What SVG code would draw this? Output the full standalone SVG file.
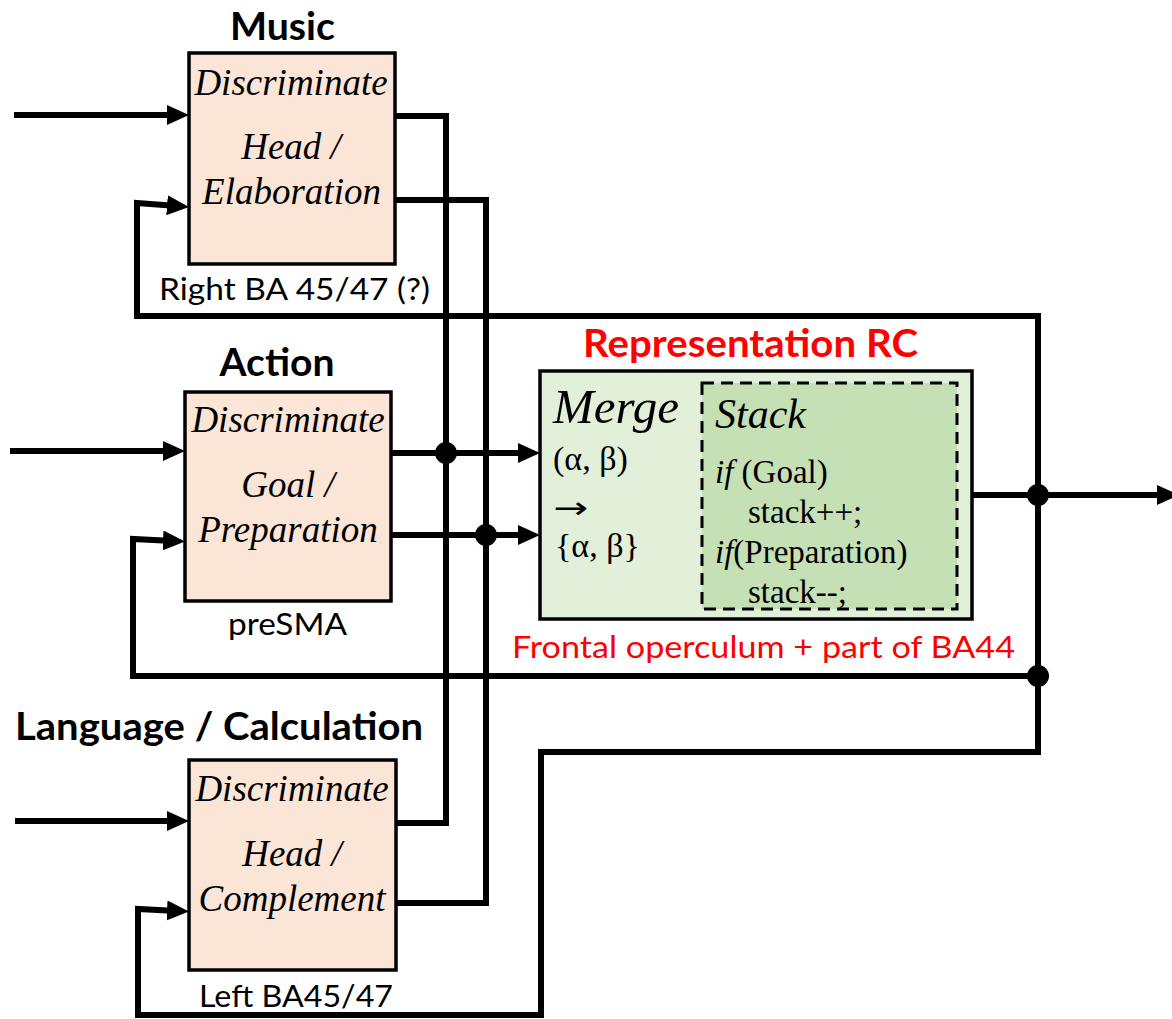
<svg xmlns="http://www.w3.org/2000/svg" width="1172" height="1019" viewBox="0 0 1172 1019">
  <defs>
    <marker id="arr" markerUnits="userSpaceOnUse" markerWidth="22" markerHeight="20" viewBox="0 0 22 20" refX="10" refY="10" orient="auto-start-reverse">
      <path d="M0,0 L22,10 L0,20 z" fill="#000"/>
    </marker>
    <style>
      .wire { fill: none; stroke: #000; stroke-width: 6; stroke-linejoin: miter; }
      .dot { fill: #000; }
      .box { fill: #fbe5d6; stroke: #000; stroke-width: 3.5; }
      .rc { fill: #e2f0d9; stroke: #000; stroke-width: 3.5; }
      .stack { fill: #c5e0b4; stroke: #000; stroke-width: 3; stroke-dasharray: 12 7; }
      .title { font-family: Lato, "Liberation Sans", sans-serif; font-weight: bold; font-size: 39px; fill: #000; }
      .area { font-family: Lato, "Liberation Sans", sans-serif; font-size: 30px; fill: #000; }
      .fn { font-family: "Liberation Serif", "Times New Roman", serif; font-style: italic; font-size: 37px; fill: #000; text-anchor: middle; }
      .code { font-family: "Liberation Serif", "Times New Roman", serif; font-size: 33px; fill: #000; }
      .merge { font-size: 49px; font-style: italic; }
      .pair { font-size: 34px; }
      .maps { font-family: "Noto Sans", "DejaVu Sans", sans-serif; font-size: 30px; }
      .head { font-size: 42px; font-style: italic; }
      .red { fill: #ff0000; }
    </style>
  </defs>

  <!-- wiring between the modules -->
  <g id="connectors">
    <!-- input arrows -->
    <path class="wire" d="M14,115 H177" marker-end="url(#arr)"/>
    <path class="wire" d="M10,451 H173" marker-end="url(#arr)"/>
    <path class="wire" d="M15,821 H177" marker-end="url(#arr)"/>
    <!-- feedback loop to Music and Language/Calculation -->
    <path class="wire" d="M177,206 L137,203 V316 H1038 V752 H541 V1015 H138 V909 L177,911" marker-start="url(#arr)" marker-end="url(#arr)"/>
    <!-- feedback loop to Action -->
    <path class="wire" d="M173,541 L133,539 V676 H1038" marker-start="url(#arr)"/>
    <!-- outputs of Music / Language boxes -->
    <path class="wire" d="M395,116 H446 V823 H396"/>
    <path class="wire" d="M395,200 H486 V903 H396"/>
    <!-- outputs of Action box into RC -->
    <path class="wire" d="M391,453 H528" marker-end="url(#arr)"/>
    <path class="wire" d="M391,535 H528" marker-end="url(#arr)"/>
    <!-- RC output -->
    <path class="wire" d="M972,495 H1167" marker-end="url(#arr)"/>
    <!-- junctions -->
    <circle class="dot" cx="446" cy="453" r="11"/>
    <circle class="dot" cx="486" cy="535" r="11"/>
    <circle class="dot" cx="1038" cy="495" r="11"/>
    <circle class="dot" cx="1038" cy="676" r="11"/>
  </g>

  <g id="music">
    <text class="title" x="282.5" y="40" text-anchor="middle" textLength="105" lengthAdjust="spacingAndGlyphs">Music</text>
    <rect class="box" x="189" y="53" width="206" height="211"/>
    <text class="fn" x="291" y="95">Discriminate</text>
    <text class="fn" x="291" y="159">Head /</text>
    <text class="fn" x="291.5" y="204">Elaboration</text>
    <text class="area" x="294.5" y="300" text-anchor="middle" textLength="271" lengthAdjust="spacingAndGlyphs">Right BA 45/47 (?)</text>
  </g>

  <g id="action">
    <text class="title" x="277" y="376" text-anchor="middle" textLength="115" lengthAdjust="spacingAndGlyphs">Action</text>
    <rect class="box" x="185" y="392" width="206" height="209"/>
    <text class="fn" x="288" y="432">Discriminate</text>
    <text class="fn" x="288" y="497">Goal /</text>
    <text class="fn" x="288" y="542">Preparation</text>
    <text class="area" x="287.5" y="635" text-anchor="middle" textLength="119" lengthAdjust="spacingAndGlyphs">preSMA</text>
  </g>

  <g id="language">
    <text class="title" x="15" y="740" textLength="408" lengthAdjust="spacingAndGlyphs">Language / Calculation</text>
    <rect class="box" x="189" y="760" width="207" height="210"/>
    <text class="fn" x="292" y="801">Discriminate</text>
    <text class="fn" x="292" y="866">Head /</text>
    <text class="fn" x="292" y="911">Complement</text>
    <text class="area" x="296" y="1007" text-anchor="middle" textLength="194" lengthAdjust="spacingAndGlyphs">Left BA45/47</text>
  </g>

  <g id="representation-rc">
    <text class="title red" x="750.5" y="357" text-anchor="middle" textLength="335" lengthAdjust="spacingAndGlyphs">Representation RC</text>
    <rect class="rc" x="540" y="371" width="432" height="248"/>
    <rect class="stack" x="702" y="383" width="255" height="226"/>
    <text class="code merge" x="553" y="423">Merge</text>
    <text class="code pair" x="553" y="470">(α, β)</text>
    <text class="code maps" x="553" y="518" textLength="35" lengthAdjust="spacingAndGlyphs">→</text>
    <text class="code pair" x="555" y="557">{α, β}</text>
    <text class="code head" x="715" y="428">Stack</text>
    <text class="code" x="715" y="483"><tspan font-style="italic">if</tspan> (Goal)</text>
    <text class="code" x="748" y="523">stack++;</text>
    <text class="code" x="715" y="563"><tspan font-style="italic">if</tspan>(Preparation)</text>
    <text class="code" x="748" y="603">stack--;</text>
    <text class="area red" x="763.5" y="658" text-anchor="middle" textLength="503" lengthAdjust="spacingAndGlyphs">Frontal operculum + part of BA44</text>
  </g>
</svg>
